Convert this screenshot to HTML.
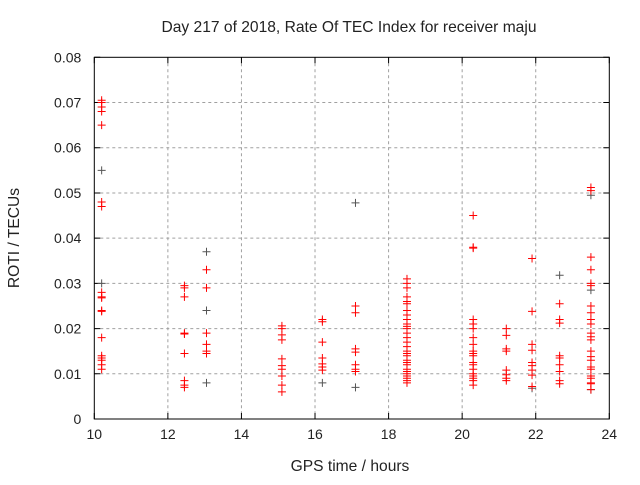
<!DOCTYPE html>
<html><head><meta charset="utf-8"><style>
body{margin:0;background:#fff;}
svg text{font-family:"Liberation Sans",sans-serif;fill:#222;}
</style></head><body>
<svg id="chart" width="640" height="480" xmlns="http://www.w3.org/2000/svg">
<rect width="640" height="480" fill="#fff"/>
<text x="349" y="32" font-size="15.6" text-anchor="middle">Day 217 of 2018, Rate Of TEC Index for receiver maju</text>
<g id="grid"></g>
<g id="axes"></g>
<g id="marks"></g>
<text x="350" y="471" font-size="15.6" text-anchor="middle">GPS time / hours</text>
<text x="19" y="238" font-size="15.6" text-anchor="middle" transform="rotate(-90 19 238)">ROTI / TECUs</text>
</svg>
<script>
const xTicks=[10,12,14,16,18,20,22,24];
const yTicks=[0,0.01,0.02,0.03,0.04,0.05,0.06,0.07,0.08];
const yTickLabels=["0","0.01","0.02","0.03","0.04","0.05","0.06","0.07","0.08"];
const colTimes=[10.2,12.45,13.05,15.1,16.2,17.1,18.5,20.3,21.2,21.9,22.65,23.5];
const colValues=[
[0.0705,0.07,0.069,0.068,0.065,0.048,0.047,0.028,0.027,0.0268,0.024,0.0238,0.018,0.014,0.0135,0.013,0.012,0.011],
[0.0295,0.029,0.027,0.019,0.0188,0.0145,0.0085,0.0075,0.007],
[0.033,0.029,0.019,0.0165,0.015,0.0145],
[0.0206,0.02,0.0186,0.0175,0.0133,0.0118,0.011,0.0095,0.0075,0.006],
[0.022,0.0215,0.017,0.0135,0.0122,0.0115,0.0108],
[0.025,0.0235,0.0155,0.0148,0.012,0.011,0.0105],
[0.031,0.03,0.029,0.027,0.026,0.0255,0.024,0.023,0.022,0.021,0.0205,0.02,0.019,0.018,0.017,0.016,0.015,0.0145,0.014,0.013,0.0125,0.012,0.011,0.0105,0.01,0.0095,0.009,0.0085,0.008],
[0.045,0.038,0.0378,0.022,0.021,0.02,0.018,0.0165,0.015,0.0145,0.014,0.0125,0.012,0.011,0.01,0.0095,0.009,0.0085,0.0075],
[0.02,0.0185,0.0155,0.015,0.0108,0.0098,0.009,0.0085],
[0.0355,0.0238,0.0165,0.0152,0.0125,0.0118,0.0108,0.0097,0.0072],
[0.0255,0.022,0.0212,0.014,0.0135,0.012,0.0105,0.0085,0.0078],
[0.0512,0.0505,0.0358,0.033,0.03,0.0295,0.025,0.0235,0.022,0.021,0.019,0.0182,0.0175,0.015,0.0138,0.013,0.0115,0.011,0.0095,0.009,0.008,0.0078,0.0065]
];
const blackTimes=[10.2,10.2,13.05,13.05,13.05,16.2,17.1,17.1,21.9,22.65,23.5,23.5,23.5];
const blackValues=[0.055,0.03,0.037,0.024,0.008,0.008,0.0478,0.007,0.0068,0.0318,0.0495,0.0285,0.0065];
const L=94.3,R=609.3,T=57.3,B=419;
const xs=v=>L+(v-10)/14*(R-L);
const ys=v=>B-v/0.08*(B-T);
const NS="http://www.w3.org/2000/svg";
function mk(tag,attrs,parent){const e=document.createElementNS(NS,tag);for(const k in attrs)e.setAttribute(k,attrs[k]);parent.appendChild(e);return e;}
const grid=document.getElementById('grid'),axes=document.getElementById('axes'),marks=document.getElementById('marks');
xTicks.forEach((t,i)=>{
 if(i>0&&i<xTicks.length-1){const g=mk('line',{x1:xs(t),x2:xs(t),y1:T,y2:B,stroke:'#a0a0a0','stroke-dasharray':'3,3'},grid);
 }
 const tk=mk('path',{d:`M${xs(t)},${B}v-6M${xs(t)},${T}v6`,stroke:'#000'},axes);
 
 const lb=mk('text',{x:xs(t),y:B+20,'font-size':14,'text-anchor':'middle'},axes);lb.textContent=t;
 
});
yTicks.forEach((t,i)=>{
 if(i>0&&i<yTicks.length-1){const g=mk('line',{x1:L,x2:R,y1:ys(t),y2:ys(t),stroke:'#a0a0a0','stroke-dasharray':'3,3'},grid);
 }
 const tk=mk('path',{d:`M${L},${ys(t)}h6M${R},${ys(t)}h-6`,stroke:'#000'},axes);
 
 const lb=mk('text',{x:L-13,y:ys(t)+5,'font-size':14,'text-anchor':'end'},axes);lb.textContent=yTickLabels[i];
 
});
const fr=mk('rect',{x:L,y:T,width:R-L,height:B-T,fill:'none',stroke:'#000'},axes);

function plus(x,y,c){const p=mk('path',{d:`M${x-4},${y}h8M${x},${y-4}v8`,stroke:c,'stroke-width':1},marks);return p;}
blackTimes.forEach((t,i)=>{const p=plus(xs(t),ys(blackValues[i]),'#555');
 });
colTimes.forEach((t,i)=>colValues[i].forEach(v=>{const p=plus(xs(t),ys(v),'#ff0000');
 }));
</script>
</body></html>
